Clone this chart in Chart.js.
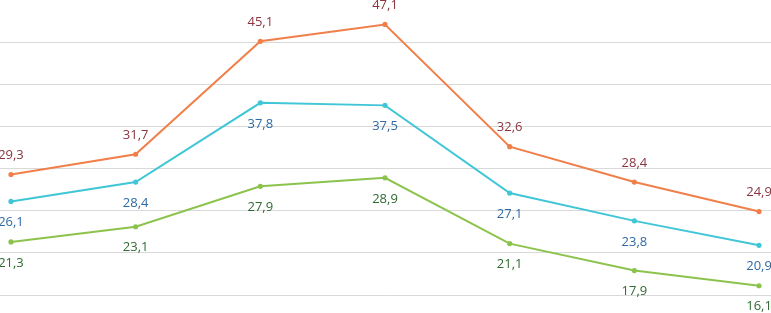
<!DOCTYPE html>
<html>
<head>
<meta charset="utf-8">
<script src="https://cdn.jsdelivr.net/npm/chart.js@4"></script>
<style>
  html, body { margin: 0; padding: 0; background: #fff; overflow: hidden; }
  #wrap { width: 771px; height: 313px; }
</style>
</head>
<body>
<div id="wrap"><canvas id="lineChart"></canvas></div>
<script>
// chart data
const categories = ['1', '2', '3', '4', '5', '6', '7'];
const orangeValues = [29.3, 31.7, 45.1, 47.1, 32.6, 28.4, 24.9];
const blueValues = [26.1, 28.4, 37.8, 37.5, 27.1, 23.8, 20.9];
const greenValues = [21.3, 23.1, 27.9, 28.9, 21.1, 17.9, 16.1];
const gridTicks = [15, 20, 25, 30, 35, 40, 45];

// points on a linear x axis so the grid can run edge to edge
function toPoints(values) {
    return values.map((v, i) => ({ x: i, y: v }));
}

// value labels drawn next to each point
const valueLabels = {
    id: 'valueLabels',
    afterDatasetsDraw(chart) {
        const ctx = chart.ctx;
        ctx.save();
        ctx.font = '13px "Open Sans", "Liberation Sans", sans-serif';
        ctx.textAlign = 'center';
        ctx.textBaseline = 'middle';
        chart.data.datasets.forEach((ds, i) => {
            const meta = chart.getDatasetMeta(i);
            ctx.fillStyle = ds.labelColor;
            meta.data.forEach((pt, j) => {
                const text = ds.data[j].y.toFixed(1).replace('.', ',');
                ctx.fillText(text, pt.x, pt.y + ds.labelOffset);
            });
        });
        ctx.restore();
    }
};

function createLineChart() {
    const ctx = document.getElementById('lineChart');
    if (ctx) {
        new Chart(ctx, {
            type: 'line',
            data: {
                labels: categories,
                datasets: [{
                    data: toPoints(orangeValues),
                    borderColor: '#F07F4A',
                    backgroundColor: '#F07F4A',
                    labelColor: '#8A3440',
                    labelOffset: -19,
                    borderWidth: 2,
                    pointRadius: 1.6,
                    tension: 0
                }, {
                    data: toPoints(blueValues),
                    borderColor: '#40C6D6',
                    backgroundColor: '#40C6D6',
                    labelColor: '#2E6AA6',
                    labelOffset: 21,
                    borderWidth: 2,
                    pointRadius: 1.6,
                    tension: 0
                }, {
                    data: toPoints(greenValues),
                    borderColor: '#8CC34C',
                    backgroundColor: '#8CC34C',
                    labelColor: '#2F6A30',
                    labelOffset: 21,
                    borderWidth: 2,
                    pointRadius: 1.6,
                    tension: 0
                }]
            },
            options: {
                responsive: true,
                maintainAspectRatio: false,
                animation: false,
                layout: { padding: 0, autoPadding: false },
                plugins: {
                    legend: { display: false },
                    tooltip: { enabled: false }
                },
                scales: {
                    x: {
                        type: 'linear',
                        min: -0.088,
                        max: 6.096,
                        display: false
                    },
                    y: {
                        min: 12.87,
                        max: 50,
                        border: { display: false },
                        ticks: { display: false },
                        grid: { color: '#D9D9D9', lineWidth: 1, drawTicks: false },
                        afterBuildTicks(scale) {
                            scale.ticks = gridTicks.map(v => ({ value: v }));
                        }
                    }
                }
            },
            plugins: [valueLabels]
        });
    }
}

createLineChart();
</script>
</body>
</html>
